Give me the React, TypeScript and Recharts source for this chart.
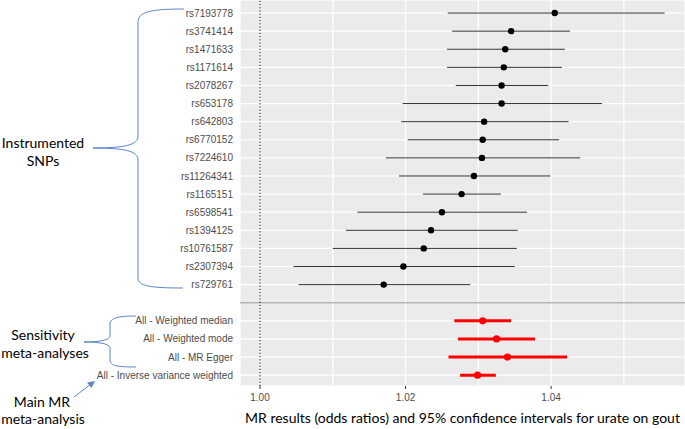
import { ScatterChart, Scatter, XAxis, YAxis, CartesianGrid, ErrorBar, ReferenceLine } from "recharts"

const snpLabels = [
  "rs7193778", "rs3741414", "rs1471633", "rs1171614", "rs2078267", "rs653178",
  "rs642803", "rs6770152", "rs7224610", "rs11264341", "rs1165151", "rs6598541",
  "rs1394125", "rs10761587", "rs2307394", "rs729761",
]
const snpEst = [
  1.0405, 1.0345, 1.0337, 1.0335, 1.0332, 1.0332, 1.0308, 1.0306,
  1.0305, 1.0294, 1.0277, 1.025, 1.0235, 1.0225, 1.0197, 1.017,
]
const snpLow = [
  1.0258, 1.0264, 1.0257, 1.0257, 1.0269, 1.0196, 1.0194, 1.0203,
  1.0173, 1.0191, 1.0224, 1.0134, 1.0118, 1.01, 1.0046, 1.0053,
]
const snpHigh = [
  1.0556, 1.0426, 1.0419, 1.0415, 1.0396, 1.047, 1.0424, 1.0411,
  1.044, 1.0399, 1.0331, 1.0367, 1.0354, 1.0353, 1.035, 1.0289,
]

const metaLabels = [
  "All - Weighted median",
  "All - Weighted mode",
  "All - MR Egger",
  "All - Inverse variance weighted",
]
const metaEst = [1.0306, 1.0325, 1.034, 1.0299]
const metaLow = [1.0267, 1.0272, 1.0259, 1.0275]
const metaHigh = [1.0345, 1.0378, 1.0422, 1.0324]

const xTicks = [1.0, 1.01, 1.02, 1.03, 1.04, 1.05]
const xTickLabels = ["1.00", "", "1.02", "", "1.04", ""]

const axisTitle = "MR results (odds ratios) and 95% confidence intervals for urate on gout"

// rows: snps at 0..15, a gap, then meta rows at 17..20
const snpRows = snpLabels.map((label, i) => ({
  label,
  pos: i,
  est: snpEst[i],
  err: [snpEst[i] - snpLow[i], snpHigh[i] - snpEst[i]],
}))
const metaRows = metaLabels.map((label, i) => ({
  label,
  pos: 17 + i,
  est: metaEst[i],
  err: [metaEst[i] - metaLow[i], metaHigh[i] - metaEst[i]],
}))
const yTicks = [...snpRows, ...metaRows].map((r) => r.pos)
const labelAt = (pos: number) => [...snpRows, ...metaRows].find((r) => r.pos === pos)?.label ?? ""

const XTick = ({ x, y, payload }: any) => {
  const label = xTickLabels[xTicks.indexOf(payload.value)]
  if (!label) return null
  return (
    <g>
      <line x1={x} x2={x} y1={y} y2={y + 3} stroke="#333" strokeWidth={1} />
      <text x={x} y={y + 15} textAnchor="middle" fill="#4D4D4D" fontSize={10} fontFamily="Liberation Sans">
        {label}
      </text>
    </g>
  )
}

const dot = (r: number, color: string) => (props: any) =>
  <circle cx={props.cx} cy={props.cy} r={r} fill={color} />

const annoFont = { fontFamily: "Lato", fontSize: 14, fill: "#000" }
const braceColor = "#5B86C9"

export default function App() {
  return (
    <div style={{ position: "absolute", left: 0, top: 0, width: 685, height: 429, background: "#fff" }}>
      <ScatterChart width={685} height={429} margin={{ top: 0, right: 0, bottom: 0, left: 0 }}>
        <CartesianGrid fill="#EBEBEB" stroke="#fff" strokeWidth={1.2} />
        <XAxis
          type="number"
          dataKey="est"
          domain={[0.99725, 1.0584]}
          ticks={xTicks}
          interval={0}
          height={43}
          axisLine={false}
          tickLine={false}
          tickSize={0}
          tickMargin={0}
          tick={<XTick />}
          allowDataOverflow
          label={{ value: axisTitle, position: "insideBottom", offset: 6, fill: "#000", fontSize: 14, fontFamily: "Lato" }}
        />
        <YAxis
          type="number"
          dataKey="pos"
          domain={[-0.72, 20.6]}
          reversed
          ticks={yTicks}
          interval={0}
          width={240}
          axisLine={false}
          tickLine={false}
          tickSize={0}
          tickMargin={7}
          tickFormatter={labelAt}
          tick={{ fill: "#4D4D4D", fontSize: 10, fontFamily: "Liberation Sans" }}
          allowDataOverflow
        />
        <ReferenceLine y={16} stroke="#B5B5B5" strokeWidth={1.5} />
        <ReferenceLine x={1} stroke="#000" strokeDasharray="1.2 2" strokeWidth={1} />
        <Scatter data={snpRows} shape={dot(3.2, "#000")} isAnimationActive={false}>
          <ErrorBar dataKey="err" direction="x" width={0} stroke="#333" strokeWidth={1} />
        </Scatter>
        <Scatter data={metaRows} shape={dot(3.6, "#FF0000")} isAnimationActive={false}>
          <ErrorBar dataKey="err" direction="x" width={0} stroke="#FF0000" strokeWidth={3} />
        </Scatter>
      </ScatterChart>
      <svg width={685} height={429} style={{ position: "absolute", left: 0, top: 0, pointerEvents: "none" }}>
        <path
          d="M 184 9 C 150 9, 138 12, 138 22 L 138 136 C 138 145, 125 148, 93 148 C 125 148, 138 151, 138 160 L 138 278 C 138 286, 150 288, 183 288"
          fill="none"
          stroke={braceColor}
          strokeWidth={1}
        />
        <path
          d="M 136 316 C 118 316, 110 318, 110 324 L 110 336 C 110 340, 100 342, 84 342 C 100 342, 110 344, 110 348 L 110 360 C 110 366, 118 367, 136 367"
          fill="none"
          stroke={braceColor}
          strokeWidth={1}
        />
        <line x1={74} y1={397} x2={91} y2={384} stroke={braceColor} strokeWidth={1} />
        <path d="M 95 381 L 87 382.5 L 91.5 388 Z" fill={braceColor} />
        <text x={43} y={148} textAnchor="middle" {...annoFont}>Instrumented</text>
        <text x={43} y={166} textAnchor="middle" {...annoFont}>SNPs</text>
        <text x={43} y={340} textAnchor="middle" {...annoFont}>Sensitivity</text>
        <text x={45} y={358} textAnchor="middle" {...annoFont}>meta-analyses</text>
        <text x={42} y={407} textAnchor="middle" {...annoFont}>Main MR</text>
        <text x={43} y={424} textAnchor="middle" {...annoFont}>meta-analysis</text>
      </svg>
    </div>
  )
}
